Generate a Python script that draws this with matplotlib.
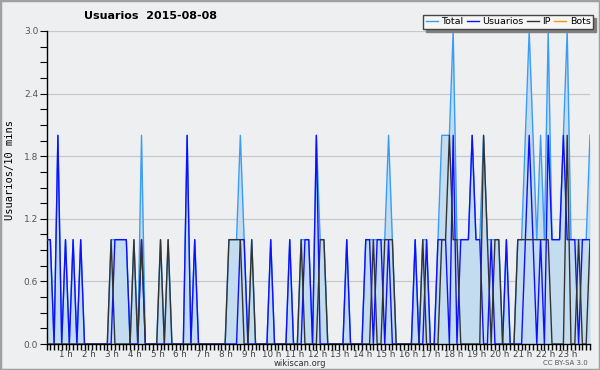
import matplotlib.pyplot as plt
import numpy as np
from matplotlib.transforms import ScaledTranslation

# Usuarios per 10-minute slot, 2015-08-08 (144 slots, 00:00 -> 23:50)
usuarios = [
    1, 1, 0, 2, 0, 1, 0, 1, 0, 1, 0, 0,
    0, 0, 0, 0, 0, 0, 1, 1, 1, 1, 0, 0,
    0, 1, 0, 0, 0, 0, 0, 0, 0, 0, 0, 0,
    0, 2, 0, 1, 0, 0, 0, 0, 0, 0, 0, 0,
    0, 0, 0, 1, 1, 0, 0, 0, 0, 0, 0, 1,
    0, 0, 0, 0, 1, 0, 0, 0, 1, 1, 0, 2,
    0, 0, 0, 0, 0, 0, 0, 1, 0, 0, 0, 0,
    1, 1, 0, 1, 1, 0, 1, 0, 0, 0, 0, 0,
    0, 1, 0, 0, 1, 0, 0, 1, 1, 1, 0, 2,
    0, 1, 1, 1, 2, 1, 1, 0, 0, 1, 0, 0,
    0, 1, 0, 0, 0, 0, 1, 2, 1, 0, 1, 0,
    2, 1, 1, 1, 2, 1, 1, 1, 0, 1, 1, 1,
]
ip = [
    0, 0, 0, 0, 0, 0, 0, 0, 0, 0, 0, 0,
    0, 0, 0, 0, 0, 1, 0, 0, 0, 0, 0, 1,
    0, 1, 0, 0, 0, 0, 1, 0, 1, 0, 0, 0,
    0, 0, 0, 0, 0, 0, 0, 0, 0, 0, 0, 0,
    1, 1, 1, 1, 0, 0, 1, 0, 0, 0, 0, 0,
    0, 0, 0, 0, 0, 0, 0, 1, 0, 0, 0, 0,
    1, 1, 0, 0, 0, 0, 0, 0, 0, 0, 0, 0,
    0, 0, 1, 0, 0, 1, 1, 1, 0, 0, 0, 0,
    0, 0, 0, 1, 0, 0, 0, 0, 1, 1, 2, 1,
    1, 0, 0, 0, 0, 0, 0, 2, 1, 0, 1, 1,
    0, 0, 0, 0, 1, 1, 1, 1, 1, 1, 1, 1,
    1, 0, 0, 0, 0, 2, 0, 0, 1, 0, 0, 1,
]
bots = [0] * 144
hour_labels = [f"{h} h" for h in range(1, 24)]

total = np.array(usuarios) + np.array(ip) + np.array(bots)
t = np.arange(len(usuarios)) / 6.0  # hours

bg = '#eeeff1'
fig = plt.figure(figsize=(6, 3.7), dpi=100, facecolor=bg)
ax = fig.add_axes([46.5 / 600, 1 - 344 / 370, (590 - 46.5) / 600, (344 - 31) / 370])
ax.set_facecolor(bg)

# frame around whole picture
fig.patches.append(plt.Rectangle((0, 0), 1, 1, transform=fig.transFigure,
                                 fill=False, edgecolor='#a0a0a0', linewidth=2.5))

ax.plot(t, bots, color='#ff9900', linewidth=1, zorder=1)
ax.fill_between(t, 0, total, color='#c4dcef', linewidth=0, zorder=2)
ax.plot(t, total, color='#3b9cf5', linewidth=1, label='Total', zorder=3)
ax.plot(t, usuarios, color='#0f0fff', linewidth=1, label='Usuarios', zorder=4)
ax.plot(t, ip, color='#333333', linewidth=1, label='IP', zorder=5)
ax.plot([], [], color='#ff9900', linewidth=1, label='Bots')

ax.set_xlim(0, t[-1])
ax.set_ylim(0, 3.0)

ax.set_yticks([0.0, 0.6, 1.2, 1.8, 2.4, 3.0])
ax.set_yticklabels(['0.0', '0.6', '1.2', '1.8', '2.4', '3.0'])
ax.set_yticks(np.arange(0, 3.01, 0.15), minor=True)
ax.grid(axis='y', color='#c8c8c8', linewidth=0.9, zorder=0)
ax.set_axisbelow(True)

ax.set_xticks(np.arange(1, 24))
ax.set_xticklabels(hour_labels)
ax.set_xticks(np.arange(0, 24, 1 / 6.0), minor=True)
ax.tick_params(axis='x', which='both', direction='out', length=4, width=1,
               labelsize=6.3, labelcolor='#444444', pad=0)
ax.tick_params(axis='y', which='both', direction='out', length=5, width=0.8,
               labelsize=6.5, labelcolor='#555555', pad=1)
off = ScaledTranslation(-3 / 100, 0, fig.dpi_scale_trans)
for lab in ax.get_xticklabels():
    lab.set_transform(lab.get_transform() + off)

for s in ['top', 'right']:
    ax.spines[s].set_visible(False)
ax.spines['left'].set_linewidth(1)
ax.spines['bottom'].set_linewidth(1)

fig.text(151 / 600, 1 - 16 / 370, 'Usuarios  2015-08-08', ha='center', va='center',
         fontsize=8, fontweight='bold')
fig.text(10 / 600, 1 - 170 / 370, 'Usuarios/10 mins', rotation=90, ha='center',
         va='center', fontsize=7.5, family='DejaVu Sans Mono')
fig.text(300 / 600, 1 - 364 / 370, 'wikiscan.org', ha='center', va='center',
         fontsize=6, color='#333333')
fig.text(565 / 600, 1 - 363 / 370, 'CC BY-SA 3.0', ha='center', va='center',
         fontsize=5, color='#555555')

leg = ax.legend(loc='upper right', bbox_to_anchor=(593 / 600, 1 - 15 / 370),
                bbox_transform=fig.transFigure, ncol=4, fontsize=6.8,
                handlelength=1.3, handletextpad=0.35, columnspacing=0.35,
                borderpad=0.25, borderaxespad=0, frameon=True, fancybox=False,
                shadow={'color': '#808080', 'alpha': 1})
leg.get_frame().set_edgecolor('#444444')
leg.get_frame().set_facecolor('#f6f6f6')
leg.get_frame().set_linewidth(1)
leg.set_zorder(10)

fig.savefig('out.png', dpi=100, facecolor=bg)
